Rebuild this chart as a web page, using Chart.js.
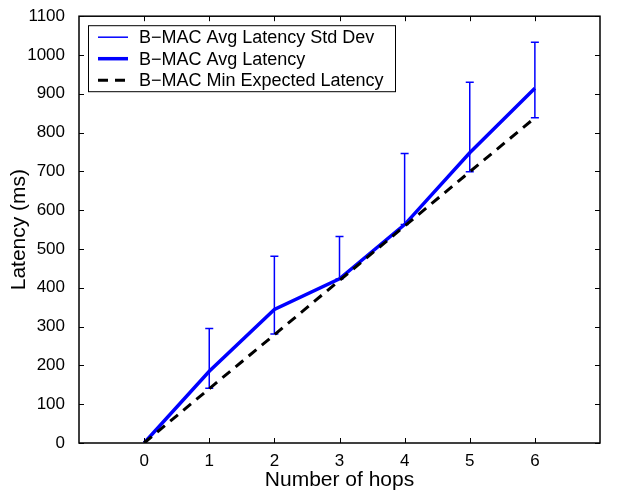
<!DOCTYPE html>
<html>
<head>
<meta charset="utf-8">
<script src="https://cdn.jsdelivr.net/npm/chart.js@4"></script>
<style>
  html, body { margin: 0; padding: 0; background: #fff; }
  #wrap { width: 618px; height: 491px; }
</style>
</head>
<body>
<div id="wrap"><canvas id="latencyChart" width="618" height="491"></canvas></div>
<script>
// data
const hops = [0, 1, 2, 3, 4, 5, 6];
const avgLatency = [0, 185, 344, 423, 563, 748, 914];
const minExpected = [0, 140, 279, 419, 559, 699, 838];
const stdUpper = [null, 295, 481, 532, 746, 930, 1033];
const stdLower = [null, 141, 281, 423, 563, 699, 838];
const yTicks = [0, 100, 200, 300, 400, 500, 600, 700, 800, 900, 1000, 1100];
const legendLabels = ["B\u2212MAC Avg Latency Std Dev", "B\u2212MAC Avg Latency", "B\u2212MAC Min Expected Latency"];

const FONT = "'Liberation Sans', Arial, Helvetica, sans-serif";
const BLUE = "#0000ff";

// error bars, drawn under the lines
const errorBars = {
  id: "errorBars",
  beforeDatasetsDraw(chart) {
    const ctx = chart.ctx, x = chart.scales.x, y = chart.scales.y;
    ctx.save();
    ctx.strokeStyle = BLUE;
    ctx.lineWidth = 1.5;
    hops.forEach((h, i) => {
      if (stdUpper[i] == null) return;
      const px = x.getPixelForValue(h);
      const top = y.getPixelForValue(stdUpper[i]);
      const bot = y.getPixelForValue(stdLower[i]);
      ctx.beginPath();
      ctx.moveTo(px, top); ctx.lineTo(px, bot);
      ctx.moveTo(px - 4, top); ctx.lineTo(px + 4, top);
      ctx.moveTo(px - 4, bot); ctx.lineTo(px + 4, bot);
      ctx.stroke();
    });
    ctx.restore();
  }
};

// box around the plot, inward ticks on all four sides, legend
const frame = {
  id: "frame",
  afterDraw(chart) {
    const ctx = chart.ctx, a = chart.chartArea, x = chart.scales.x, y = chart.scales.y;
    ctx.save();
    ctx.strokeStyle = "#000";
    ctx.lineWidth = 1.5;
    ctx.strokeRect(a.left, a.top, a.right - a.left, a.bottom - a.top);
    ctx.lineWidth = 1;
    ctx.beginPath();
    hops.forEach(h => {
      const px = Math.round(x.getPixelForValue(h)) + 0.5;
      ctx.moveTo(px, a.bottom); ctx.lineTo(px, a.bottom - 5);
      ctx.moveTo(px, a.top); ctx.lineTo(px, a.top + 5);
    });
    yTicks.forEach(v => {
      const py = Math.round(y.getPixelForValue(v)) + 0.5;
      ctx.moveTo(a.left, py); ctx.lineTo(a.left + 5, py);
      ctx.moveTo(a.right, py); ctx.lineTo(a.right - 5, py);
    });
    ctx.stroke();

    // legend box
    const lx = a.left + 9, ly = a.top + 9, lw = 307, lh = 66;
    ctx.fillStyle = "#fff";
    ctx.fillRect(lx, ly, lw, lh);
    ctx.lineWidth = 1;
    ctx.strokeRect(lx + 0.5, ly + 0.5, lw, lh);
    const styles = [
      { c: BLUE, w: 1.5, d: [] },
      { c: BLUE, w: 3.5, d: [] },
      { c: "#000", w: 3, d: [10, 7] }
    ];
    ctx.font = "18px " + FONT;
    ctx.textBaseline = "middle";
    legendLabels.forEach((t, i) => {
      const ry = ly + 12 + i * 21.5;
      ctx.beginPath();
      ctx.strokeStyle = styles[i].c;
      ctx.lineWidth = styles[i].w;
      ctx.setLineDash(styles[i].d);
      ctx.moveTo(lx + 10, ry); ctx.lineTo(lx + 40, ry);
      ctx.stroke();
      ctx.setLineDash([]);
      ctx.fillStyle = "#000";
      ctx.fillText(t, lx + 51, ry + 1);
    });
    ctx.restore();
  }
};

const ctx = document.getElementById("latencyChart").getContext("2d");
new Chart(ctx, {
  type: "line",
  data: {
    datasets: [
      {
        label: legendLabels[2],
        data: hops.map((h, i) => ({ x: h, y: minExpected[i] })),
        borderColor: "#000",
        borderWidth: 3,
        borderDash: [10, 7],
        pointRadius: 0,
        fill: false,
        tension: 0,
        order: 0
      },
      {
        label: legendLabels[1],
        data: hops.map((h, i) => ({ x: h, y: avgLatency[i] })),
        borderColor: BLUE,
        borderWidth: 3.5,
        pointRadius: 0,
        fill: false,
        tension: 0,
        order: 1
      }
    ]
  },
  options: {
    responsive: false,
    animation: false,
    layout: { padding: { top: 15, right: 18, left: 0, bottom: 0 } },
    plugins: { legend: { display: false }, tooltip: { enabled: false } },
    scales: {
      x: {
        type: "linear",
        min: -1,
        max: 7,
        afterBuildTicks: s => { s.ticks = hops.map(v => ({ value: v })); },
        afterFit: s => { s.height = 48; },
        grid: { display: false },
        border: { display: false },
        ticks: { color: "#000", font: { family: FONT, size: 17 }, padding: 0, maxRotation: 0, callback: v => String(v) },
        title: { display: true, text: "Number of hops", color: "#000", font: { family: FONT, size: 21, lineHeight: 1 }, padding: { top: 0, bottom: 0 } }
      },
      y: {
        min: 0,
        max: 1100,
        afterBuildTicks: s => { s.ticks = yTicks.map(v => ({ value: v })); },
        afterFit: s => { s.width = 79; },
        grid: { display: false },
        border: { display: false },
        ticks: { color: "#000", font: { family: FONT, size: 17 }, padding: 6, callback: v => String(v) },
        title: { display: true, text: "Latency (ms)", color: "#000", font: { family: FONT, size: 21 }, padding: { top: 7, bottom: 0 } }
      }
    }
  },
  plugins: [errorBars, frame]
});
</script>
</body>
</html>
